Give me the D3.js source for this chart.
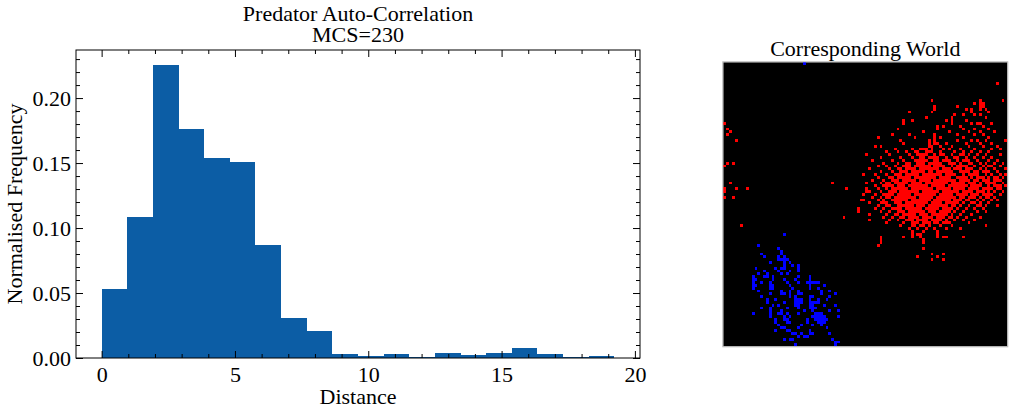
<!DOCTYPE html>
<html>
<head>
<meta charset="utf-8">
<script src="https://cdn.jsdelivr.net/npm/d3@7"></script>
<style>
body { margin: 0; background: #fff; }
svg { display: block; font-family: "Liberation Serif", "Times New Roman", serif; }
</style>
</head>
<body>
<div id="chart"></div>
<script>
let WIDTH = 1011;
let HEIGHT = 413;
let FONT = 22;
let SERIF = '"Liberation Serif", "Times New Roman", serif';

// histogram of predator distances (density, 20 equal bins)
let frequency = [0.0530, 0.1085, 0.2257, 0.1761, 0.1540, 0.1507, 0.0869, 0.0306, 0.0206, 0.0029,
                 0.0013, 0.0029, 0.0004, 0.0036, 0.0021, 0.0036, 0.0075, 0.0029, 0.0004, 0.0013];
let distanceMax = 19.23;
let xTicks = [0, 5, 10, 15, 20];
let yTicks = [0, 0.05, 0.10, 0.15, 0.20];

// world grid, 100 x 100; each entry is [row, "cols"] where "a-b" is a run of cells
let worldSize = 100;
let redCells = [
    [7, "96"], [13, "73 90 98"], [14, "88 90 91"], [15, "74 82 90 91"], [16, "74 85 87 90 92"],
    [17, "65 73 87 93"], [18, "81 84 88 90"], [19, "71 80 92"], [20, "63 66 78 80 85"],
    [21, "0 63 80 87 89 90 94"], [22, "75 77 83 91"], [23, "1 61 75 84 88 93"],
    [24, "2 70 79 86 90 95"], [25, "1 59 65 74 82 88 91"], [26, "54 67 74 76 84 93"],
    [27, "4 62 72 74 82 87 89 92 99"], [28, "63 72 74-75 78 85 90 94"],
    [29, "53 55 72-73 76 80 86 91 96"], [30, "60 66 69-71 73 77 79 83 88 94 97"],
    [31, "57 61 64 67-68 71-73 76 81 84 87 90 93"],
    [32, "50 58 65 68-71 74 76-77 80 83-84 86 89 92 97"],
    [33, "55 62 66 69-70 72-75 78 81-82 85 88 91 94"],
    [34, "52 59 63 67-71 74-75 77-79 82 84-86 89 93 96"],
    [35, "1 3 56 61 64-65 68-70 72-76 79-81 83 86-87 90 92 95 98"],
    [36, "0 54 57 60 63-65 67-72 74-77 80 82-85 88 91 93-94 97"],
    [37, "51 58 61-62 64-67 69-75 77-79 81-83 85-87 90 92 95 99"],
    [38, "55 59 62-64 66-70 72-73 75-80 83-86 88-89 91-93 96"],
    [39, "49 53 57 60-62 64-68 70-76 78-81 84 86-89 92 94 97 99"],
    [40, "54 58-59 61-65 67-74 76-79 82-85 87 89-91 93 95-96 98"],
    [41, "52 56 59-61 63-67 69-72 74-81 83-86 88-89 91-93 95-97"],
    [42, "2 38 50 55 57-58 60-64 66-69 71-78 80-84 86-88 90 92-95 98"],
    [43, "53 56-59 61-63 65-71 73-77 79-85 87-90 93 95-97 99"],
    [44, "0 4 8 43 50 54 57 59-64 66-73 75-79 81-84 86-89 91-94 96-97"],
    [45, "0 50-51 55 58-60 62-68 70-75 77-82 84-87 89-91 93 95 98"],
    [46, "49 53 56-59 61-65 67-74 76-80 82-85 87-89 91-94 97"],
    [47, "0 3 52 55 57-58 60-67 69-73 75-81 83-84 86-88 90 92-93 95"],
    [48, "48-49 54 56 59-64 66-72 74-79 81-83 85-86 89 91 94 96"],
    [49, "51 55-57 60-62 64-71 73-76 78-82 84 87-88 90 93"],
    [50, "54 57-58 61-66 68-70 72-78 80-81 83 86 89-90 92 96"],
    [51, "47 53 56 59-62 64-69 71-75 77-80 82 85 88 91"],
    [52, "47 55 58 61-63 65-70 72-74 76-79 81 84 89 92"],
    [53, "51 57 60-61 63-67 69-71 73-78 80 83 87"],
    [54, "42 56 59 62-63 65-68 70-73 75-77 79-80 82 85 90"],
    [55, "51 58 61 64-66 68-71 73-76 78 81 84 88"],
    [56, "57 63 66-68 70-72 74-75 77-79 86"], [57, "6 62 66-67 69-70 72 76 80 92"],
    [58, "65 68 71 74 78 83"], [59, "66 70 75"], [60, "66 68-69 75"],
    [61, "55 63 66 69 75 77-78 84"], [62, "55 70"], [63, "55 70"], [64, "54"], [65, "70"],
    [67, "73 77"], [68, "68 75"], [69, "73 77"]
];
let blueCells = [
    [0, "28"], [60, "21"], [64, "12"], [65, "19"], [66, "20"], [67, "13 20"], [68, "14 19 21"],
    [69, "19-22"], [70, "16 21 23"], [71, "21 24 26"], [72, "11 18 20-21 26"], [73, "14 19 23 26"],
    [74, "12 15 20 22"], [75, "10 14-15 17 26 30"], [76, "10-11 17 21 25 30"],
    [77, "10 13 16 22 26 29-33"], [78, "10-11 16-17 23 30 35"], [79, "10 16-17 24 30 33"],
    [80, "12 20 23 26 34 37"], [81, "16 20-21 23 26-27 34 39"], [82, "13 23 25 30-31 37"],
    [83, "15 18 25-27 30 33 36"], [84, "15 21 25-27 30-33"], [85, "17 19 25-26 30-31 35 39"],
    [86, "13 16 22 26 30-32"], [87, "16 20 28 31 37 40"], [88, "10 16 19-20 22 26 32-34"],
    [89, "16 21 23 31-35 40"], [90, "18 21-22 29 32-36"], [91, "18 22-23 29 33-35"],
    [92, "19 27 31 34"], [93, "20-21 26 36"], [94, "18 22-23 30"], [95, "24-25 27 30-31 37"],
    [96, "26 28-29"], [97, "21 23-24 38"], [98, "39-40"], [99, "25 39"]
];

let svg = d3.select("#chart").append("svg")
    .attr("width", WIDTH)
    .attr("height", HEIGHT);

svg.append("rect").attr("width", WIDTH).attr("height", HEIGHT).attr("fill", "#fff");

// ---------- histogram ----------
let hist = { left: 76, right: 640, top: 50, bottom: 358 };

let binWidth = distanceMax / frequency.length;
let bins = frequency.map((f, i) => ({ x0: i * binWidth, x1: (i + 1) * binWidth, f: f }));

let pad = distanceMax * 0.05;
let x = d3.scaleLinear().domain([-pad, distanceMax + pad]).range([hist.left, hist.right]);
let y = d3.scaleLinear().domain([0, d3.max(frequency) * 1.05]).range([hist.bottom, hist.top]);

svg.append("g")
    .attr("shape-rendering", "crispEdges")
    .selectAll("rect")
    .data(bins)
    .enter().append("rect")
    .attr("x", d => x(d.x0))
    .attr("width", d => x(d.x1) - x(d.x0))
    .attr("y", d => y(d.f))
    .attr("height", d => y(0) - y(d.f))
    .attr("fill", "#0C5DA5");

let xMinor = d3.range(0, 21, 1).filter(v => !xTicks.includes(v));
let yMinor = d3.range(0, 24).map(v => v / 100).filter(v => !yTicks.some(t => Math.abs(t - v) < 1e-9));

function styleAxis(g) {
    g.select(".domain").remove();
    g.attr("font-size", FONT).attr("font-family", SERIF);
    g.selectAll(".tick line").attr("stroke", "#000").attr("stroke-width", 1);
    g.selectAll(".tick text").attr("fill", "#000");
}

function addAxis(axisFn, scale, transform, values, size, format, padding) {
    let axis = axisFn(scale).tickValues(values).tickSize(-size)
        .tickFormat(format || "").tickPadding(padding || 0);
    svg.append("g").attr("transform", transform).call(axis).call(styleAxis);
}

// bottom / top
addAxis(d3.axisBottom, x, `translate(0,${hist.bottom})`, xTicks, 7, d3.format("d"), 8);
addAxis(d3.axisBottom, x, `translate(0,${hist.bottom})`, xMinor, 4);
addAxis(d3.axisTop, x, `translate(0,${hist.top})`, xTicks, 7);
addAxis(d3.axisTop, x, `translate(0,${hist.top})`, xMinor, 4);
// left / right
addAxis(d3.axisLeft, y, `translate(${hist.left},0)`, yTicks, 7, d3.format(".2f"), 5);
addAxis(d3.axisLeft, y, `translate(${hist.left},0)`, yMinor, 4);
addAxis(d3.axisRight, y, `translate(${hist.right},0)`, yTicks, 7);
addAxis(d3.axisRight, y, `translate(${hist.right},0)`, yMinor, 4);

svg.append("rect")
    .attr("x", hist.left).attr("y", hist.top)
    .attr("width", hist.right - hist.left).attr("height", hist.bottom - hist.top)
    .attr("fill", "none").attr("stroke", "#000").attr("stroke-width", 1);

let histCenter = (hist.left + hist.right) / 2;
let title = svg.append("text")
    .attr("x", histCenter).attr("text-anchor", "middle")
    .attr("font-size", FONT).attr("font-family", SERIF);
title.append("tspan").attr("x", histCenter).attr("y", 21).text("Predator Auto-Correlation");
title.append("tspan").attr("x", histCenter).attr("y", 42).text("MCS=230");

svg.append("text")
    .attr("x", histCenter).attr("y", 404)
    .attr("text-anchor", "middle")
    .attr("font-size", FONT).attr("font-family", SERIF)
    .text("Distance");

svg.append("text")
    .attr("transform", `translate(22,${(hist.top + hist.bottom) / 2}) rotate(-90)`)
    .attr("text-anchor", "middle")
    .attr("font-size", FONT).attr("font-family", SERIF)
    .text("Normalised Frequency");

// ---------- world ----------
let world = { left: 723.3, top: 62.3, size: 284 };
let wx = d3.scaleLinear().domain([0, worldSize]).range([world.left, world.left + world.size]);
let wy = d3.scaleLinear().domain([0, worldSize]).range([world.top, world.top + world.size]);

function parseCells(rows) {
    return rows.flatMap(([row, cols]) => cols.split(" ").flatMap(tok => {
        let [a, b] = tok.split("-").map(Number);
        return d3.range(a, (b === undefined ? a : b) + 1).map(col => ({ row: row, col: col }));
    }));
}

svg.append("rect")
    .attr("x", wx(0)).attr("y", wy(0))
    .attr("width", wx(worldSize) - wx(0)).attr("height", wy(worldSize) - wy(0))
    .attr("fill", "#000");

let cellGroup = svg.append("g").attr("shape-rendering", "crispEdges");
[[redCells, "#ff0000"], [blueCells, "#0000ff"]].forEach(([cells, colour]) => {
    cellGroup.append("g")
        .selectAll("rect")
        .data(parseCells(cells))
        .enter().append("rect")
        .attr("x", d => wx(d.col))
        .attr("y", d => wy(d.row))
        .attr("width", wx(1) - wx(0))
        .attr("height", wy(1) - wy(0))
        .attr("fill", colour);
});

svg.append("rect")
    .attr("x", wx(0) - 0.5).attr("y", wy(0) - 0.5)
    .attr("width", wx(worldSize) - wx(0) + 1).attr("height", wy(worldSize) - wy(0) + 1)
    .attr("fill", "none").attr("stroke", "#b5b5b5").attr("stroke-width", 1);

svg.append("text")
    .attr("x", (wx(0) + wx(worldSize)) / 2).attr("y", 56)
    .attr("text-anchor", "middle")
    .attr("font-size", FONT).attr("font-family", SERIF)
    .text("Corresponding World");
</script>
</body>
</html>
